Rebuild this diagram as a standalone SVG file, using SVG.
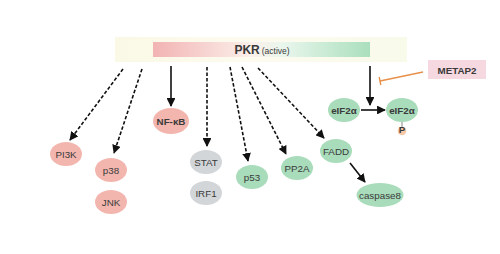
<svg xmlns="http://www.w3.org/2000/svg" width="500" height="254" viewBox="0 0 500 254">
<defs>
<linearGradient id="band" x1="0" x2="1" y1="0" y2="0">
<stop offset="0" stop-color="#faf9e6"/><stop offset="0.5" stop-color="#fdfbf0"/><stop offset="1" stop-color="#f8faea"/>
</linearGradient>
<linearGradient id="bar" x1="0" x2="1" y1="0" y2="0">
<stop offset="0" stop-color="#f2b3b3"/><stop offset="0.45" stop-color="#fbf0ea"/><stop offset="0.6" stop-color="#e9f6ec"/><stop offset="1" stop-color="#aadfbd"/>
</linearGradient>
<marker id="ah" viewBox="0 0 10 10" refX="9" refY="5" markerWidth="5.5" markerHeight="5.5" orient="auto" markerUnits="strokeWidth">
<path d="M0,0 L10,5 L0,10 z" fill="#111"/>
</marker>
<style>
text{font-family:"Liberation Sans",Arial,sans-serif;fill:#3a3a3a;font-size:9.8px;text-anchor:middle}
.b{font-weight:bold}
.red{fill:#f2b6ae}
.gray{fill:#d2d6d8}
.green{fill:#a8dcba}
.dash{stroke:#111;stroke-width:1.6;stroke-dasharray:3.5,2;fill:none}
.solid{stroke:#111;stroke-width:1.6;fill:none}
</style>
</defs>
<rect width="500" height="254" fill="#fff"/>
<g id="PKR">
<rect x="115" y="37" width="292" height="25" fill="url(#band)"/>
<rect x="153" y="42" width="217" height="15" fill="url(#bar)"/>
<text x="262" y="54"><tspan class="b" font-size="12">PKR</tspan><tspan font-size="8.5" dx="2">(active)</tspan></text>
</g>
<g id="connectors">
<line class="dash" x1="123" y1="69" x2="70" y2="140" marker-end="url(#ah)"/>
<line class="dash" x1="142" y1="69" x2="114" y2="153" marker-end="url(#ah)"/>
<line class="solid" x1="171" y1="66" x2="171" y2="106" marker-end="url(#ah)"/>
<line class="dash" x1="207" y1="67" x2="207" y2="146" marker-end="url(#ah)"/>
<line class="dash" x1="230" y1="67" x2="248" y2="161" marker-end="url(#ah)"/>
<line class="dash" x1="242" y1="67" x2="286" y2="154" marker-end="url(#ah)"/>
<line class="dash" x1="258" y1="68" x2="324" y2="138" marker-end="url(#ah)"/>
<line class="solid" x1="370" y1="66" x2="370" y2="105" marker-end="url(#ah)"/>
<line class="solid" x1="361" y1="110" x2="385" y2="110" marker-end="url(#ah)"/>
<line class="solid" x1="350" y1="163" x2="365" y2="182" marker-end="url(#ah)"/>
<line x1="423" y1="72" x2="380" y2="81" stroke="#e8904a" stroke-width="1.4"/>
<line x1="379.2" y1="77" x2="380.8" y2="85" stroke="#e8904a" stroke-width="1.4"/>
<line x1="402" y1="121" x2="402" y2="127" stroke="#888" stroke-width="1"/>
</g>
<g id="PI3K"><ellipse class="red" cx="66" cy="154" rx="16" ry="12"/><text x="66" y="157.5">PI3K</text></g>
<g id="p38"><ellipse class="red" cx="111" cy="170" rx="16" ry="12"/><text x="111" y="173.5">p38</text></g>
<g id="JNK"><ellipse class="red" cx="111" cy="202" rx="16" ry="12"/><text x="111" y="205.5">JNK</text></g>
<g id="NFkB"><ellipse class="red" cx="171" cy="121" rx="18" ry="13"/><text class="b" x="171" y="124.5">NF-κB</text></g>
<g id="STAT"><ellipse class="gray" cx="206" cy="162" rx="16" ry="12"/><text x="206" y="165.5">STAT</text></g>
<g id="IRF1"><ellipse class="gray" cx="206" cy="193" rx="16" ry="12"/><text x="206" y="196.5">IRF1</text></g>
<g id="p53"><ellipse class="green" cx="252" cy="177" rx="16" ry="12"/><text x="252" y="180.5">p53</text></g>
<g id="PP2A"><ellipse class="green" cx="297" cy="168" rx="16" ry="12"/><text x="297" y="171.5">PP2A</text></g>
<g id="FADD"><ellipse class="green" cx="336" cy="151" rx="16" ry="12"/><text x="336" y="154.5">FADD</text></g>
<g id="eIF2a"><ellipse class="green" cx="344" cy="110" rx="16" ry="12"/><text class="b" x="344" y="113.5">eIF2α</text></g>
<g id="eIF2a-P"><ellipse class="green" cx="402" cy="110" rx="16" ry="12"/><text class="b" x="402" y="113.5">eIF2α</text>
<circle cx="402" cy="131" r="4.3" fill="#f5c9a8"/><text x="402" y="133" font-size="5.5" class="b">P</text></g>
<g id="caspase8"><ellipse class="green" cx="380" cy="195" rx="23.5" ry="12"/><text x="380" y="198.5">caspase8</text></g>
<g id="METAP2"><rect x="428" y="60" width="58" height="19" fill="#f6d8e0"/><text class="b" x="457" y="73.5" font-size="11">METAP2</text></g>
</svg>
